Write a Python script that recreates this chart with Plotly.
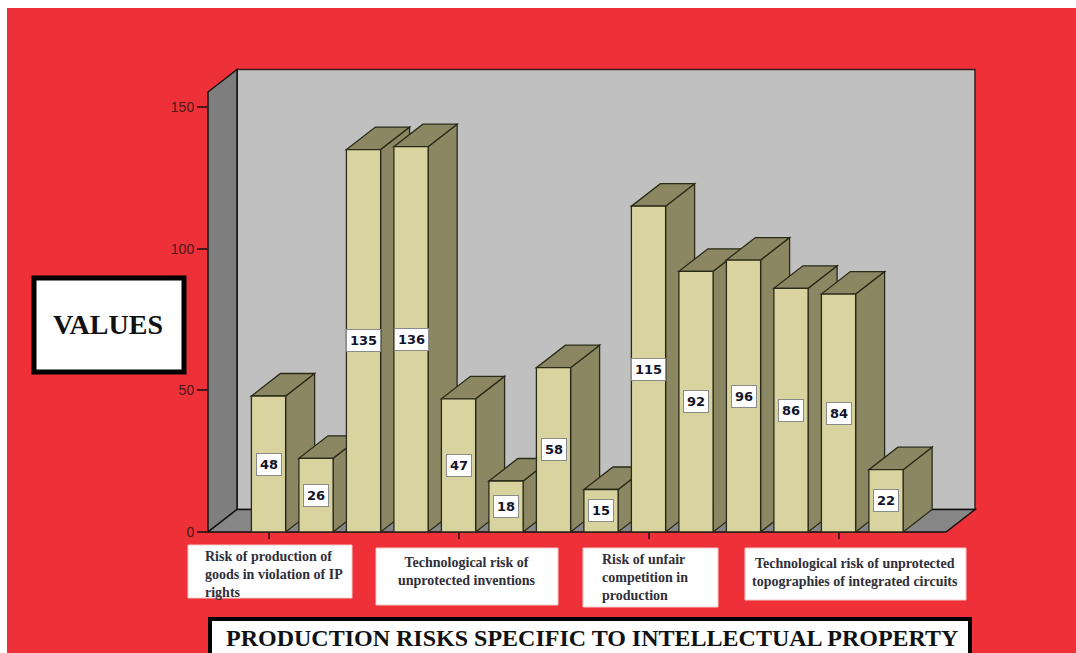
import plotly.graph_objects as go

# ---- data ----
values = [48, 26, 135, 136, 47, 18, 58, 15, 115, 92, 96, 86, 84, 22]
category_labels = [
    "Risk of production of<br>goods in violation of IP<br>rights",
    "Technological risk of<br>unprotected inventions",
    "Risk of unfair<br>competition in<br>production",
    "Technological risk of unprotected<br>topographies of integrated circuits",
]
category_ticks = [0, 4, 8, 12]
y_ticks = [0, 50, 100, 150]
y_axis_title = "VALUES"
chart_title = "PRODUCTION RISKS SPECIFIC TO INTELLECTUAL PROPERTY"

# ---- geometry ----
W, H = 1076, 653
X0, SX = 268.5, 47.5      # pixel of first bar centre, pixels per bar slot
Y0, SY = 532.0, 2.833     # pixel of the value 0, pixels per unit

def px_x(p):
    return (p - X0) / SX

def px_y(p):
    return (Y0 - p) / SY

def pap_x(p):
    return p / W

def pap_y(p):
    return 1 - p / H

x_range = [px_x(0), px_x(W)]
y_range = [px_y(H), px_y(0)]

DX = 29 / SX              # depth offset of the pseudo-3D box
DY = 22.5 / SY
BAR_W = 0.72
XL, XR, YT = px_x(208), px_x(946), px_y(92)

RED = "#ee3039"
FRONT = "#d8d39f"
SHADE = "#8b8762"
EDGE = "#2a2a18"

shapes = []

# page background
shapes.append(dict(type="rect", xref="paper", yref="paper", layer="below",
                   x0=pap_x(7), x1=1, y0=0, y1=pap_y(8),
                   fillcolor=RED, line=dict(width=0)))


def poly(pts):
    return "M " + " L ".join(f"{a},{b}" for a, b in pts) + " Z"


# back wall, left wall, floor
shapes.append(dict(type="rect", xref="x", yref="y", layer="below",
                   x0=XL + DX, x1=XR + DX, y0=DY, y1=YT + DY,
                   fillcolor="#c0c0c0", line=dict(color="#3a2020", width=1.5)))
shapes.append(dict(type="path", xref="x", yref="y", layer="below",
                   path=poly([(XL, 0), (XL, YT), (XL + DX, YT + DY), (XL + DX, DY)]),
                   fillcolor="#7e7e7e", line=dict(color="#111", width=1.5)))
shapes.append(dict(type="path", xref="x", yref="y", layer="below",
                   path=poly([(XL, 0), (XR, 0), (XR + DX, DY), (XL + DX, DY)]),
                   fillcolor="#868686", line=dict(color="#111", width=1.5)))

# side and top faces of each bar, built from its value
for i, v in enumerate(values):
    l, r = i - BAR_W / 2, i + BAR_W / 2
    shapes.append(dict(type="path", xref="x", yref="y", layer="below",
                       path=poly([(r, 0), (r, v), (r + DX, v + DY), (r + DX, DY)]),
                       fillcolor=SHADE, line=dict(color=EDGE, width=1.3)))
    shapes.append(dict(type="path", xref="x", yref="y", layer="below",
                       path=poly([(l, v), (r, v), (r + DX, v + DY), (l + DX, v + DY)]),
                       fillcolor=SHADE, line=dict(color=EDGE, width=1.3)))

# axis-title box and chart-title box
shapes.append(dict(type="rect", xref="paper", yref="paper",
                   x0=pap_x(34), x1=pap_x(184), y0=pap_y(372), y1=pap_y(278),
                   fillcolor="white", line=dict(color="black", width=5)))
shapes.append(dict(type="rect", xref="paper", yref="paper",
                   x0=pap_x(210), x1=pap_x(970), y0=pap_y(670), y1=pap_y(619),
                   fillcolor="white", line=dict(color="black", width=4)))

# category label boxes
cat_boxes = [(188, 352, 545, 598), (376, 558, 548, 605),
             (583, 718, 548, 607), (745, 966, 548, 600)]
for x0, x1, y0, y1 in cat_boxes:
    shapes.append(dict(type="rect", xref="paper", yref="paper",
                       x0=pap_x(x0), x1=pap_x(x1), y0=pap_y(y1), y1=pap_y(y0),
                       fillcolor="white", line=dict(color="#f3c9c9", width=1)))

annotations = []
for i, v in enumerate(values):
    annotations.append(dict(x=i, y=v / 2, xref="x", yref="y", text=f"<b>{v}</b>",
                            xanchor="center", yanchor="middle",
                            showarrow=False, bgcolor="white", bordercolor="#8a8a8a",
                            borderwidth=1, borderpad=3,
                            font=dict(family="DejaVu Sans", size=13, color="#14142a")))

cat_text_pos = [(203, 547, "left", "left"), (467, 553, "center", "center"),
                (600, 550, "left", "left"), (855, 554, "center", "center")]
for (px, py, anchor, align), label in zip(cat_text_pos, category_labels):
    annotations.append(dict(x=pap_x(px), y=pap_y(py), xref="paper", yref="paper",
                            xanchor=anchor, yanchor="top", align=align,
                            text=f"<b>{label}</b>", showarrow=False,
                            font=dict(family="Liberation Serif", size=14, color="#2f2f3a")))

annotations.append(dict(x=pap_x(108), y=pap_y(325), xref="paper", yref="paper",
                        xanchor="center", yanchor="middle",
                        text=f"<b>{y_axis_title}</b>", showarrow=False,
                        font=dict(family="Liberation Serif", size=28, color="#111")))
annotations.append(dict(x=pap_x(592), y=pap_y(638), xref="paper", yref="paper",
                        xanchor="center", yanchor="middle",
                        text=f"<b>{chart_title}</b>", showarrow=False,
                        font=dict(family="Liberation Serif", size=24, color="#111")))

fig = go.Figure(go.Bar(
    x=list(range(len(values))), y=values, width=BAR_W,
    marker=dict(color=FRONT, line=dict(color=EDGE, width=1.3)),
    hoverinfo="skip",
))

fig.update_layout(
    width=W, height=H,
    margin=dict(l=0, r=0, t=0, b=0),
    paper_bgcolor="white", plot_bgcolor="rgba(0,0,0,0)",
    showlegend=False,
    shapes=shapes, annotations=annotations,
    xaxis=dict(range=x_range, domain=[0, 1], showgrid=False, zeroline=False,
               showline=False, tickvals=category_ticks, ticks="outside", ticklen=6,
               tickcolor="#5a1414", tickwidth=1.5, showticklabels=False,
               anchor="free", position=pap_y(Y0), fixedrange=True),
    yaxis=dict(range=y_range, domain=[0, 1], showgrid=False, zeroline=False,
               showline=False, tickvals=y_ticks, ticks="outside", ticklen=11,
               tickcolor="#4a1a1a", tickwidth=1.5,
               tickfont=dict(family="Arial", size=14, color="#4a1a1a"),
               anchor="free", position=pap_x(208), fixedrange=True),
)

fig.write_html("out.html")
